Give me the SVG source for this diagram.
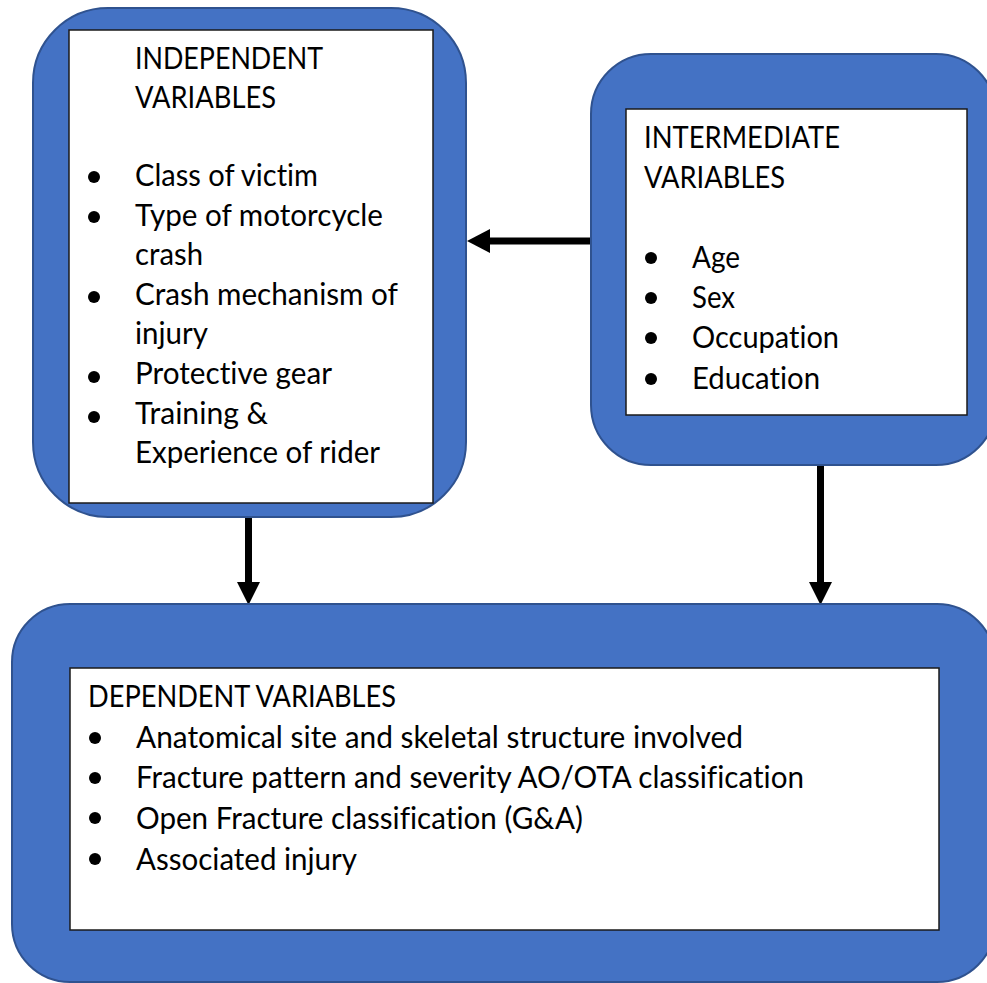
<svg xmlns="http://www.w3.org/2000/svg" width="987" height="983" viewBox="0 0 987 983">
<defs>
<style>
.outer{fill:#4472C4;stroke:#2F528F;stroke-width:2}
.inner{fill:#FFFFFF;stroke:#1a1a1a;stroke-width:1.5}
.t{font-family:Lato,"Carlito","Noto Sans",sans-serif;font-size:30px;fill:#000;font-variant-ligatures:none;font-feature-settings:"liga" 0}
.b{fill:#000}
.conn{stroke:#000;stroke-width:7;fill:none}
.head{fill:#000}
</style>
</defs>
<rect width="987" height="983" fill="#FFFFFF"/>
<g id="connectors">
<line class="conn" x1="593" y1="241" x2="488" y2="241"/>
<polygon class="head" points="467,241 490,229 490,253"/>
<line class="conn" x1="248.5" y1="517" x2="248.5" y2="584"/>
<polygon class="head" points="248.5,605 237,582 260,582"/>
<line class="conn" x1="820.5" y1="466" x2="820.5" y2="584"/>
<polygon class="head" points="820.5,605 809,582 832,582"/>
</g>
<g id="independent">
<rect class="outer" x="33" y="8" width="433" height="509" rx="75" ry="75"/>
<rect class="inner" x="69" y="30" width="364" height="473"/>
<text class="t" x="135" y="69" textLength="188" lengthAdjust="spacingAndGlyphs">INDEPENDENT</text>
<text class="t" x="135" y="108" textLength="141" lengthAdjust="spacingAndGlyphs">VARIABLES</text>
<circle class="b" cx="94" cy="177" r="6"/>
<text class="t" x="135" y="186" textLength="183" lengthAdjust="spacingAndGlyphs">Class of victim</text>
<circle class="b" cx="94" cy="217" r="6"/>
<text class="t" x="135" y="226" textLength="248" lengthAdjust="spacingAndGlyphs">Type of motorcycle</text>
<text class="t" x="135" y="265" textLength="68" lengthAdjust="spacingAndGlyphs">crash</text>
<circle class="b" cx="94" cy="297" r="6"/>
<text class="t" x="135" y="305" textLength="263" lengthAdjust="spacingAndGlyphs">Crash mechanism of</text>
<text class="t" x="135" y="344" textLength="73" lengthAdjust="spacingAndGlyphs">injury</text>
<circle class="b" cx="94" cy="377" r="6"/>
<text class="t" x="135" y="384" textLength="197" lengthAdjust="spacingAndGlyphs">Protective gear</text>
<circle class="b" cx="94" cy="417" r="6"/>
<text class="t" x="135" y="424" textLength="133" lengthAdjust="spacingAndGlyphs">Training &amp;</text>
<text class="t" x="135" y="463" textLength="245" lengthAdjust="spacingAndGlyphs">Experience of rider</text>
</g>
<g id="intermediate">
<rect class="outer" x="591" y="54" width="405" height="411" rx="60" ry="60"/>
<rect class="inner" x="626" y="109" width="341" height="306"/>
<text class="t" x="644" y="148" textLength="196" lengthAdjust="spacingAndGlyphs">INTERMEDIATE</text>
<text class="t" x="644" y="188" textLength="141" lengthAdjust="spacingAndGlyphs">VARIABLES</text>
<circle class="b" cx="651" cy="258" r="6"/>
<text class="t" x="692" y="268" textLength="48" lengthAdjust="spacingAndGlyphs">Age</text>
<circle class="b" cx="651" cy="298" r="6"/>
<text class="t" x="692" y="308" textLength="43" lengthAdjust="spacingAndGlyphs">Sex</text>
<circle class="b" cx="651" cy="338" r="6"/>
<text class="t" x="692" y="348" textLength="147" lengthAdjust="spacingAndGlyphs">Occupation</text>
<circle class="b" cx="651" cy="379" r="6"/>
<text class="t" x="692" y="389" textLength="128" lengthAdjust="spacingAndGlyphs">Education</text>
</g>
<g id="dependent">
<rect class="outer" x="12" y="604" width="983" height="378" rx="58" ry="58"/>
<rect class="inner" x="70" y="668" width="869" height="262"/>
<text class="t" x="88" y="707" textLength="308" lengthAdjust="spacingAndGlyphs">DEPENDENT VARIABLES</text>
<circle class="b" cx="95" cy="738" r="6"/>
<text class="t" x="136" y="748" textLength="607" lengthAdjust="spacingAndGlyphs">Anatomical site and skeletal structure involved</text>
<circle class="b" cx="95" cy="778" r="6"/>
<text class="t" x="136" y="788" textLength="668" lengthAdjust="spacingAndGlyphs">Fracture pattern and severity AO/OTA classification</text>
<circle class="b" cx="95" cy="818" r="6"/>
<text class="t" x="136" y="829" textLength="447" lengthAdjust="spacingAndGlyphs">Open Fracture classification (G&amp;A)</text>
<circle class="b" cx="95" cy="859" r="6"/>
<text class="t" x="136" y="870" textLength="221" lengthAdjust="spacingAndGlyphs">Associated injury</text>
</g>
</svg>
